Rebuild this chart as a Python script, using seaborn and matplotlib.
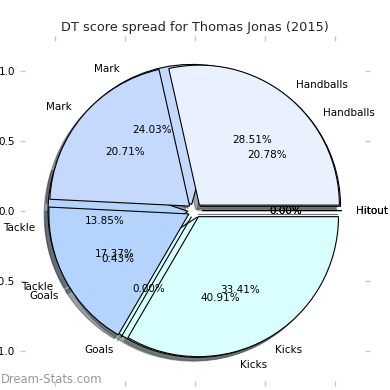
import matplotlib
matplotlib.use("Agg")
import matplotlib.pyplot as plt
import seaborn as sns

# Score categories and the two seasons' percentage splits
categories = ["Handballs", "Mark", "Tackle", "Goals", "Kicks", "Hitout"]
spread_front = [28.51, 20.71, 17.37, 0.00, 33.41, 0.00]
spread_back = [20.78, 24.03, 13.85, 0.43, 40.91, 0.00]
slice_colors = ["#eaf1fe", "#c5d9fd", "#b4d4fd", "#d4fbfb", "#d8fffe", "#e6ecfe"]
tick_values = [-1.0, -0.5, 0.0, 0.5, 1.0]

sns.set_theme(style="white")
plt.rcParams["font.family"] = ["DejaVu Sans"]

fig = plt.figure(figsize=(3.9, 3.9), dpi=100)
ax = fig.add_axes([0.0513, 0.0113, 0.8974, 0.8974])

pie_kw = dict(
    labels=categories,
    colors=slice_colors,
    autopct="%1.2f%%",
    explode=[0.05] * len(categories),
    shadow=True,
    startangle=0,
    labeldistance=1.1,
    pctdistance=0.6,
    frame=True,
    wedgeprops={"edgecolor": "black", "linewidth": 0.8},
    textprops={"fontsize": 7.5, "color": "black"},
)

# back pie first, front pie drawn over it
ax.pie(spread_back, **pie_kw)
ax.pie(spread_front, **pie_kw)

ax.set_xlim(-1.25, 1.25)
ax.set_ylim(-1.25, 1.25)
ax.set_aspect("equal")
ax.set_xticks(tick_values)
ax.set_yticks(tick_values)
ax.tick_params(axis="both", which="both", direction="in", length=3.5, width=1,
               color="#c8c8c8", labelsize=7.5, labelcolor="black",
               top=True, right=True, left=True, bottom=True)
sns.despine(ax=ax, left=True, bottom=True, top=True, right=True)

ax.set_title("DT score spread for Thomas Jonas (2015)", fontsize=9.3, pad=3.5)

fig.text(0.002, 0.026, "Dream-Stats.com", color="#999999", fontsize=8.4,
         ha="left", va="center")

fig.savefig("out.png", dpi=100)
